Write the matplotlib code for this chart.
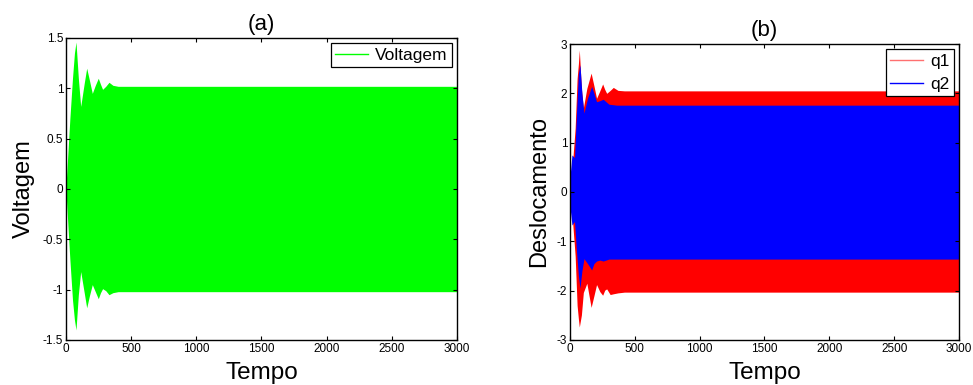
import numpy as np
import matplotlib.pyplot as plt

plt.rcParams['font.family'] = ['Liberation Sans', 'DejaVu Sans']
plt.rcParams['axes.unicode_minus'] = False

# envelopes (peaks of the dense oscillation)
# (a) voltage
t_v = [0, 10, 30, 50, 65, 77, 95, 113, 140, 159, 180, 202, 225, 248, 265, 281, 305, 330, 360, 400, 600, 1000, 3000]
v_up = [0.02, 0.25, 0.7, 1.1, 1.35, 1.46, 1.1, 0.82, 1.05, 1.20, 1.08, 0.95, 1.03, 1.10, 1.04, 0.99, 1.02, 1.06, 1.03, 1.02, 1.02, 1.02, 1.02]
v_lo = [-0.02, -0.25, -0.7, -1.1, -1.3, -1.40, -1.05, -0.82, -1.03, -1.18, -1.06, -0.95, -1.02, -1.09, -1.03, -0.99, -1.01, -1.05, -1.03, -1.02, -1.02, -1.02, -1.02]

# (b) displacement q1
t_q1 = [0, 20, 40, 55, 65, 72, 88, 103, 130, 163, 185, 205, 230, 252, 268, 283, 310, 334, 370, 420, 800, 3000]
q1_up = [0.05, 0.6, 1.3, 2.3, 2.6, 2.88, 2.1, 1.70, 2.1, 2.41, 2.15, 1.90, 2.05, 2.19, 2.08, 2.00, 2.06, 2.12, 2.06, 2.05, 2.05, 2.05]
t_q1_lo = [0, 20, 40, 55, 62, 70, 77, 116, 140, 162, 185, 210, 228, 244, 265, 280, 308, 340, 380, 420, 800, 3000]
q1_lo = [-0.05, -0.6, -1.3, -2.3, -2.5, -2.7, -2.83, -1.64, -2.0, -2.35, -2.1, -1.82, -2.0, -2.15, -2.0, -1.95, -2.08, -2.06, -2.04, -2.03, -2.03, -2.03]

# (b) displacement q2
t_q2 = [0, 15, 35, 50, 65, 77, 92, 108, 135, 167, 185, 205, 230, 256, 300, 360, 3000]
q2_up = [0.3, 0.75, 0.7, 1.6, 2.4, 2.58, 2.0, 1.6, 1.9, 2.14, 2.0, 1.83, 1.85, 1.88, 1.78, 1.76, 1.76]
q2_lo = [-0.3, -0.67, -0.6, -1.2, -1.7, -1.95, -1.6, -1.35, -1.45, -1.58, -1.45, -1.40, -1.38, -1.40, -1.36, -1.36, -1.36]

fig = plt.figure(figsize=(9.73, 3.85), dpi=100)
ax1 = fig.add_axes([0.0678, 0.1169, 0.4019, 0.7844])
ax2 = fig.add_axes([0.5858, 0.1169, 0.3998, 0.7688])


def style(ax):
    ax.set_xlim(0, 3000)
    ax.set_xticks(np.arange(0, 3001, 500))
    ax.tick_params(direction='in', top=True, right=True, length=3, width=0.8,
                   labelsize=8.5, pad=2)
    for s in ax.spines.values():
        s.set_linewidth(1.0)
    ax.set_xlabel('Tempo', fontsize=17.5, labelpad=5)


def legend(ax, spacing):
    leg = ax.legend(loc='upper right', fontsize=12.5, fancybox=False, edgecolor='black',
                    framealpha=1, borderaxespad=0.3, handlelength=1.9, handletextpad=0.4,
                    borderpad=0.25, labelspacing=spacing)
    leg.get_frame().set_linewidth(0.9)


# (a)
ax1.fill_between(t_v, v_lo, v_up, color='#00ff00', lw=0)
ax1.plot([], [], color='#00ff00', lw=1.0, label='Voltagem')
ax1.set_ylim(-1.5, 1.5)
ax1.set_yticks([-1.5, -1, -0.5, 0, 0.5, 1, 1.5])
ax1.set_yticklabels(['-1.5', '-1', '-0.5', '0', '0.5', '1', '1.5'])
style(ax1)
ax1.set_ylabel('Voltagem', fontsize=17, labelpad=6)
ax1.set_title('(a)', fontsize=16, pad=6)
legend(ax1, 0.3)

# (b)
q1_lo_i = np.interp(t_q1, t_q1_lo, q1_lo)
ax2.fill_between(t_q1, q1_lo_i, q1_up, color='#ff0000', lw=0)
ax2.fill_between(t_q2, q2_lo, q2_up, color='#0000ff', lw=0)
ax2.plot([], [], color='#ff7070', lw=1.0, label='q1')
ax2.plot([], [], color='#0000ff', lw=1.0, label='q2')
ax2.set_ylim(-3, 3)
ax2.set_yticks(np.arange(-3, 4, 1))
style(ax2)
ax2.set_ylabel('Deslocamento', fontsize=17, labelpad=5)
ax2.set_title('(b)', fontsize=16, pad=6)
legend(ax2, 0.45)

fig.savefig('out.png', dpi=100)
